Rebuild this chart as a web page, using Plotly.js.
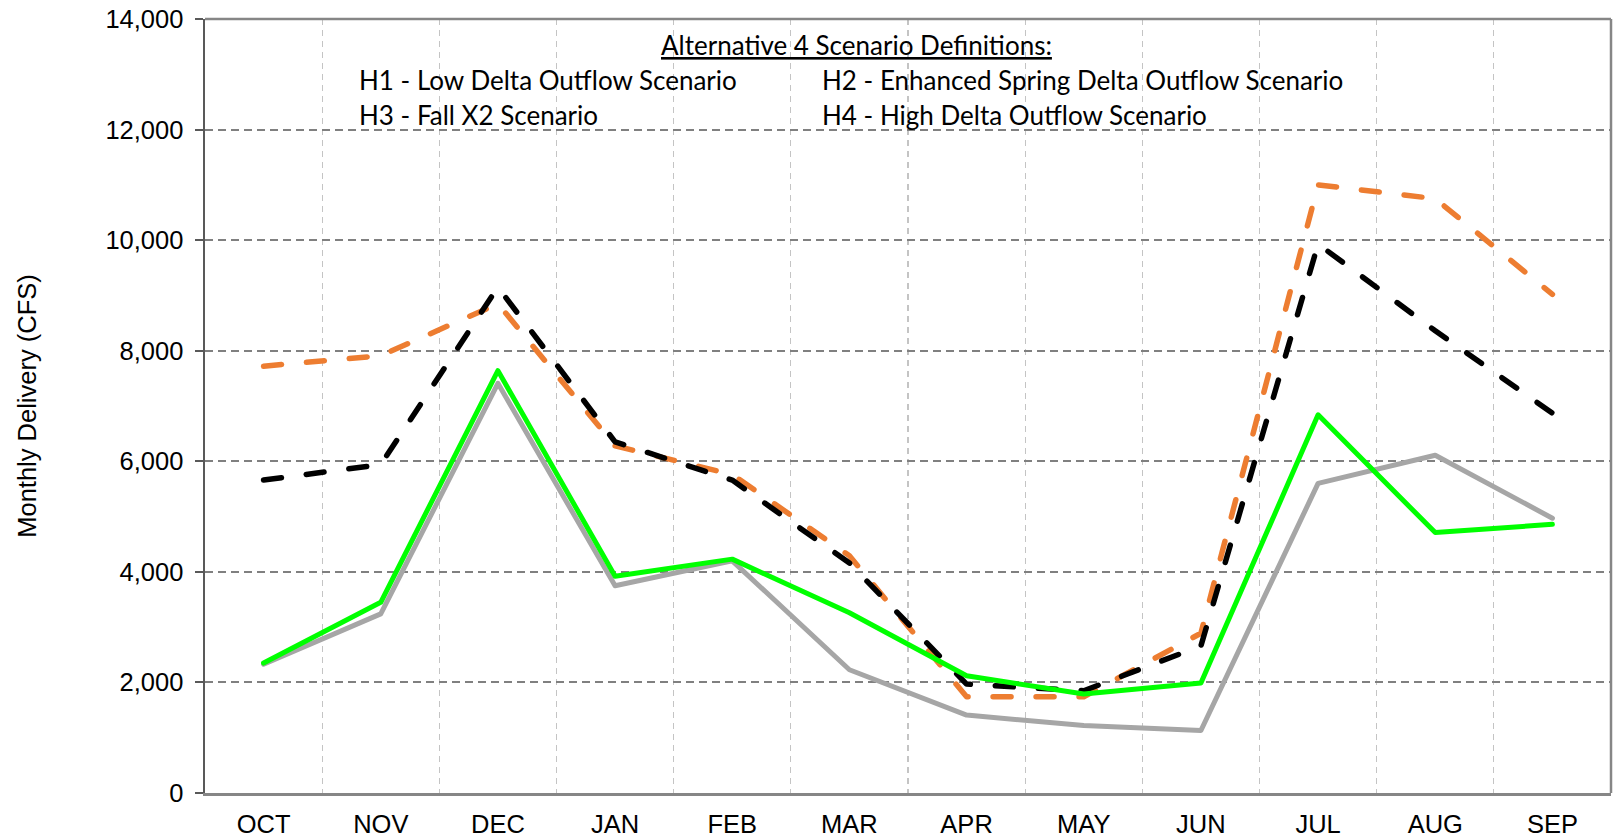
<!DOCTYPE html>
<html>
<head>
<meta charset="utf-8">
<script src="https://cdn.plot.ly/plotly-3.0.1.min.js"></script>
<style>
  html, body { margin: 0; padding: 0; background: #fff; }
  #chart { width: 1614px; height: 839px; }
  .js-line { stroke-linecap: round; stroke-linejoin: round; }
</style>
</head>
<body>
<div id="chart"></div>
<script>
// Months (x categories)
const months = ["OCT", "NOV", "DEC", "JAN", "FEB", "MAR", "APR", "MAY", "JUN", "JUL", "AUG", "SEP"];

// Series values (CFS)
const seriesOrange = [7720, 7910, 8850, 6280, 5760, 4290, 1740, 1740, 2890, 11000, 10750, 9020];
const seriesBlack  = [5660, 5940, 9150, 6350, 5660, 4160, 1970, 1850, 2660, 9930, 8360, 6870];
const seriesGreen  = [2350, 3450, 7640, 3920, 4230, 3260, 2120, 1790, 1990, 6840, 4710, 4860];
const seriesGray   = [2330, 3240, 7410, 3750, 4200, 2230, 1410, 1220, 1130, 5600, 6110, 4970];

// Y tick values / labels
const yTickVals = [0, 2000, 4000, 6000, 8000, 10000, 12000, 14000];
const yTickText = ["0", "2,000", "4,000", "6,000", "8,000", "10,000", "12,000", "14,000"];

const traces = [
  { x: months, y: seriesGray, name: "H1", type: "scatter", mode: "lines",
    line: { color: "#A6A6A6", width: 5 } },
  { x: months, y: seriesOrange, name: "H2", type: "scatter", mode: "lines",
    line: { color: "#ED7D31", width: 5.5, dash: "18px,25px" } },
  { x: months, y: seriesBlack, name: "H4", type: "scatter", mode: "lines",
    line: { color: "#000000", width: 5.5, dash: "18px,25px" } },
  { x: months, y: seriesGreen, name: "H3", type: "scatter", mode: "lines",
    line: { color: "#00FF00", width: 5 } }
];

const annFont = { family: "Lato, 'Open Sans', sans-serif", size: 26, color: "#000" };
const axFont = { family: "'Liberation Sans', Arial, sans-serif", size: 25.5, color: "#000" };

const layout = {
  width: 1614, height: 839,
  margin: { l: 205, r: 3, t: 19, b: 46 },
  paper_bgcolor: "#ffffff",
  plot_bgcolor: "#ffffff",
  showlegend: false,
  font: axFont,
  xaxis: {
    type: "category",
    range: [-0.5, 11.5],
    tickson: "boundaries",
    ticks: "",
    showline: true, linecolor: "#868686", linewidth: 2.5,
    showgrid: true, gridcolor: "#c4c4c4", gridwidth: 1.2, griddash: "6px,5px",
    tickfont: axFont,
    ticklabelstandoff: 7,
    zeroline: false,
    fixedrange: true
  },
  yaxis: {
    range: [0, 14000],
    tickvals: yTickVals,
    ticktext: yTickText,
    ticks: "outside", ticklen: 8, tickwidth: 2, tickcolor: "#595959",
    showline: true, linecolor: "#595959", linewidth: 2.5,
    showgrid: true, gridcolor: "#808080", gridwidth: 2, griddash: "8px,5px",
    tickfont: axFont,
    ticklabelstandoff: 6,
    zeroline: false,
    title: { text: "Monthly Delivery (CFS)", standoff: 62,
             font: { family: "'Liberation Sans', Arial, sans-serif", size: 25.5, color: "#000" } },
    fixedrange: true
  },
  shapes: [
    { type: "line", xref: "paper", yref: "paper", x0: 0, x1: 1, y0: 1, y1: 1,
      line: { color: "#868686", width: 2.5 } },
    { type: "line", xref: "paper", yref: "paper", x0: 1, x1: 1, y0: 0, y1: 1,
      line: { color: "#868686", width: 2.5 } }
  ],
  annotations: [
    { xref: "paper", yref: "paper", x: 0.4637, y: 0.9664, xanchor: "center", yanchor: "middle",
      showarrow: false, text: "Alternative 4 Scenario Definitions:",
      font: Object.assign({}, annFont, { lineposition: "under" }) },
    { xref: "paper", yref: "paper", x: 0.1081, y: 0.9212, xanchor: "left", yanchor: "middle",
      showarrow: false, text: "H1 - Low Delta Outflow Scenario", font: annFont },
    { xref: "paper", yref: "paper", x: 0.4374, y: 0.9212, xanchor: "left", yanchor: "middle",
      showarrow: false, text: "H2 - Enhanced Spring Delta Outflow Scenario", font: annFont },
    { xref: "paper", yref: "paper", x: 0.1081, y: 0.876, xanchor: "left", yanchor: "middle",
      showarrow: false, text: "H3 - Fall X2 Scenario", font: annFont },
    { xref: "paper", yref: "paper", x: 0.4374, y: 0.876, xanchor: "left", yanchor: "middle",
      showarrow: false, text: "H4 - High Delta Outflow Scenario", font: annFont }
  ]
};

Plotly.newPlot("chart", traces, layout, { staticPlot: true, displayModeBar: false });
</script>
</body>
</html>
